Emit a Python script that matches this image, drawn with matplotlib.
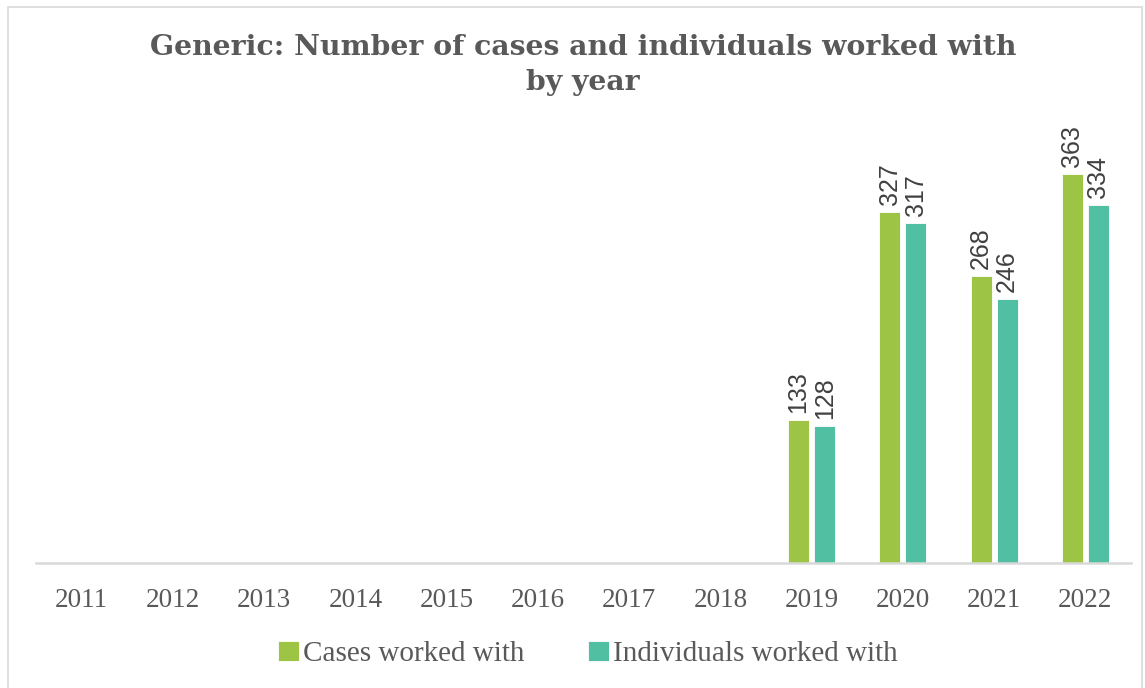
"""
Generic: cases and individuals worked with, grouped bars by year.
"""

import numpy as np
import matplotlib
matplotlib.use("Agg")
import matplotlib.pyplot as plt
from matplotlib.patches import Rectangle

years = ["2011", "2012", "2013", "2014", "2015", "2016",
         "2017", "2018", "2019", "2020", "2021", "2022"]
cases = [0, 0, 0, 0, 0, 0, 0, 0, 133, 327, 268, 363]
individuals = [0, 0, 0, 0, 0, 0, 0, 0, 128, 317, 246, 334]

GREEN = "#9DC444"
TEAL = "#50BFA2"
TEXT = "#595959"
LABEL_FONT = ["DejaVu Serif Condensed", "Liberation Serif", "DejaVu Serif"]


def plot_chart():
    fig = plt.figure(figsize=(11.45, 6.88), dpi=100)
    ax = fig.add_axes([36 / 1145, 125 / 688, 1095 / 1145, 429 / 688])

    x = np.arange(len(years))
    w = 0.23
    off = 0.1425
    b1 = ax.bar(x - off, cases, w, color=GREEN, edgecolor="white", linewidth=0.6)
    b2 = ax.bar(x + off, individuals, w, color=TEAL, edgecolor="white", linewidth=0.6)

    for bars, vals in ((b1, cases), (b2, individuals)):
        for bar, v in zip(bars, vals):
            if v == 0:
                continue
            ax.annotate(str(v), (bar.get_x() + bar.get_width() / 2, v),
                        xytext=(0, 5), textcoords="offset points",
                        rotation=90, ha="center", va="bottom",
                        fontsize=18, color="#404040", family="Liberation Sans")

    ax.set_xlim(-0.5, len(years) - 0.5)
    ax.set_ylim(0, 400)
    ax.set_yticks([])
    ax.set_xticks(x)
    ax.set_xticklabels(years, fontsize=19.5, color=TEXT, family=LABEL_FONT)
    ax.tick_params(axis="x", length=0, pad=18)
    for s in ("top", "right", "left"):
        ax.spines[s].set_visible(False)
    ax.spines["bottom"].set_color("#D9D9D9")
    ax.spines["bottom"].set_linewidth(1.8)

    fig.text(583 / 1145, 1 - 65 / 688,
             "Generic: Number of cases and individuals worked with\nby year",
             ha="center", va="center", fontsize=20.3, fontweight="bold",
             color=TEXT, family=["DejaVu Serif"], linespacing=1.4)

    leg = fig.legend([b1, b2], ["Cases worked with", "Individuals worked with"],
                     loc="center", bbox_to_anchor=(588 / 1145, 1 - 654 / 688),
                     ncol=2, frameon=False, handlelength=0.7, handleheight=0.7,
                     handletextpad=0.15, columnspacing=2.2,
                     prop={"family": LABEL_FONT, "size": 21})
    for t in leg.get_texts():
        t.set_color(TEXT)

    fig.patches.append(Rectangle((8 / 1145, -0.01), 1134 / 1145, 1 - 7 / 688 + 0.01,
                                 transform=fig.transFigure, fill=False,
                                 edgecolor="#D9D9D9", linewidth=1.2))

    fig.savefig("out.png", dpi=100)


if __name__ == "__main__":
    plot_chart()
